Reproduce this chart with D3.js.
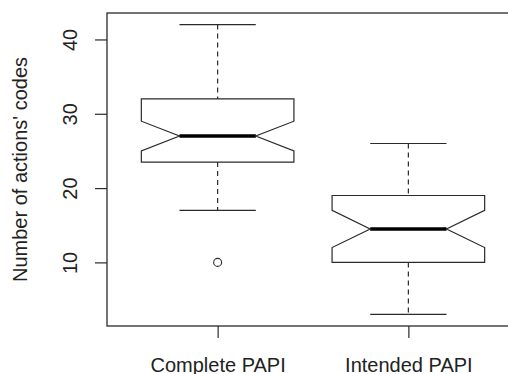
<!DOCTYPE html>
<html>
<head>
<meta charset="utf-8">
<script src="https://cdn.jsdelivr.net/npm/d3@7"></script>
<style>
  body { margin: 0; background: #fff; }
  text { font-family: "Liberation Sans", Arial, sans-serif; fill: #222; }
</style>
</head>
<body>
<div id="chart"></div>
<script>
// boxplot stats
const categories = ["Complete PAPI", "Intended PAPI"];
const lowerWhisker = [17, 3];
const q1 = [23.5, 10];
const median = [27, 14.5];
const q3 = [32, 19];
const upperWhisker = [42, 26];
const notchLow = [25, 12];
const notchHigh = [29, 17];
const outliers = [[10], []];
const yTicks = [10, 20, 30, 40];

const width = 508, height = 374;
const boxHalf = 0.4, notchHalf = 0.2, stapleHalf = 0.2;
const ink = "#2a2a2a";

const svg = d3.select("#chart")
  .append("svg")
  .attr("width", width)
  .attr("height", height);

// plot region (right side runs off the picture, as in the original)
const x = d3.scaleLinear().domain([0.42, 2.58]).range([107, 519]);
const y = d3.scaleLinear().domain([1.44, 43.56]).range([326, 13]);

// y axis
const yAxis = svg.append("g")
  .attr("transform", "translate(" + x(0.42) + ",0)")
  .call(d3.axisLeft(y).tickValues(yTicks).tickSize(12));
yAxis.select(".domain").remove();
yAxis.selectAll("line").attr("stroke", ink).attr("stroke-width", 1.2);
yAxis.selectAll("text")
  .attr("transform", "rotate(-90)")
  .attr("x", 0)
  .attr("y", -30)
  .attr("dy", null)
  .attr("text-anchor", "middle")
  .style("font-size", "20px")
  .style("font-family", "Liberation Sans, Arial, sans-serif")
  .attr("fill", "#222");

// x axis
const xAxis = svg.append("g")
  .attr("transform", "translate(0," + y(1.44) + ")")
  .call(d3.axisBottom(x).tickValues([1, 2]).tickSize(12).tickFormat(d => categories[d - 1]));
xAxis.select(".domain").remove();
xAxis.selectAll("line").attr("stroke", ink).attr("stroke-width", 1.2);
xAxis.selectAll("text")
  .attr("y", 45.5)
  .attr("dy", null)
  .style("font-size", "20px")
  .style("font-family", "Liberation Sans, Arial, sans-serif")
  .attr("fill", "#222");

// frame
svg.append("rect")
  .attr("x", x(0.42))
  .attr("y", y(43.56))
  .attr("width", x(2.58) - x(0.42))
  .attr("height", y(1.44) - y(43.56))
  .attr("fill", "none")
  .attr("stroke", ink)
  .attr("stroke-width", 1.3);

// y label
svg.append("text")
  .attr("transform", "translate(27," + (y(1.44) + y(43.56)) / 2 + ") rotate(-90)")
  .attr("text-anchor", "middle")
  .style("font-size", "20px")
  .text("Number of actions' codes");

const boxes = svg.selectAll("g.box")
  .data(categories.map((c, i) => i))
  .enter()
  .append("g")
  .attr("class", "box");

// whiskers (dashed)
boxes.append("line")
  .attr("x1", i => x(i + 1)).attr("x2", i => x(i + 1))
  .attr("y1", i => y(upperWhisker[i])).attr("y2", i => y(q3[i]))
  .attr("stroke", ink).attr("stroke-width", 1.2)
  .attr("stroke-dasharray", "5,4");
boxes.append("line")
  .attr("x1", i => x(i + 1)).attr("x2", i => x(i + 1))
  .attr("y1", i => y(q1[i])).attr("y2", i => y(lowerWhisker[i]))
  .attr("stroke", ink).attr("stroke-width", 1.2)
  .attr("stroke-dasharray", "5,4");

// staples
[upperWhisker, lowerWhisker].forEach(arr => {
  boxes.append("line")
    .attr("x1", i => x(i + 1 - stapleHalf)).attr("x2", i => x(i + 1 + stapleHalf))
    .attr("y1", i => y(arr[i])).attr("y2", i => y(arr[i]))
    .attr("stroke", ink).attr("stroke-width", 1.2);
});

// notched box
boxes.append("path")
  .attr("d", i => {
    const c = i + 1;
    const pts = [
      [c - boxHalf, q3[i]], [c + boxHalf, q3[i]],
      [c + boxHalf, notchHigh[i]], [c + notchHalf, median[i]],
      [c + boxHalf, notchLow[i]], [c + boxHalf, q1[i]],
      [c - boxHalf, q1[i]], [c - boxHalf, notchLow[i]],
      [c - notchHalf, median[i]], [c - boxHalf, notchHigh[i]]
    ];
    return d3.line().x(p => x(p[0])).y(p => y(p[1]))(pts) + "Z";
  })
  .attr("fill", "#fff")
  .attr("stroke", ink)
  .attr("stroke-width", 1.2);

// median
boxes.append("line")
  .attr("x1", i => x(i + 1 - notchHalf)).attr("x2", i => x(i + 1 + notchHalf))
  .attr("y1", i => y(median[i])).attr("y2", i => y(median[i]))
  .attr("stroke", "#000").attr("stroke-width", 3.5);

// outliers
boxes.selectAll("circle")
  .data(i => outliers[i].map(v => ({ i, v })))
  .enter()
  .append("circle")
  .attr("cx", d => x(d.i + 1))
  .attr("cy", d => y(d.v))
  .attr("r", 4)
  .attr("fill", "none")
  .attr("stroke", ink)
  .attr("stroke-width", 1.1);
</script>
</body>
</html>
